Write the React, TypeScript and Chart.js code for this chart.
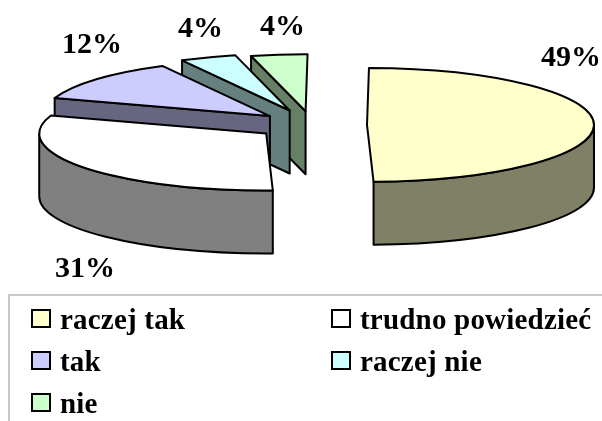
import React, { useEffect, useRef } from "react";
import { Chart, registerables } from "chart.js";

Chart.register(...registerables);

const categories = ["raczej tak", "trudno powiedzieć", "tak", "raczej nie", "nie"];
const shares = [49.4, 30.6, 12, 4, 4];
const topColors = ["#FFFFCC", "#FFFFFF", "#CCCCFF", "#CCFFFF", "#CCFFCC"];
const sideColors = ["#808066", "#808080", "#666680", "#668080", "#668066"];
const paintOrder = [4, 3, 2, 1, 0];
const explode = [55, 57, 55, 62, 55];
const labelSpots = [[541, 66], [55, 277], [62, 53], [178, 37], [260, 35]];
const legendSpots = [[31, 309], [331, 309], [31, 351], [331, 351], [31, 393]];

const RADIUS = 227;
const TILT = 0.251;
const DEPTH = 63;

const pie3d = {
  id: "pie3d",
  beforeDatasetsDraw(chart: any) {
    const ctx = chart.ctx;
    const arcs = chart.getDatasetMeta(0).data;
    for (const i of paintOrder) {
      const el = arcs[i];
      const a0 = el.startAngle;
      const a1 = el.endAngle;
      const r = el.outerRadius;
      const mid = (a0 + a1) / 2;
      const px = el.x + Math.cos(mid) * explode[i];
      const py = el.y + TILT * Math.sin(mid) * explode[i];

      ctx.save();
      ctx.lineWidth = 2;
      ctx.lineJoin = "round";
      ctx.strokeStyle = "#000";
      ctx.fillStyle = sideColors[i];
      const face = (a: number) => {
        const rx = px + r * Math.cos(a);
        const ry = py + TILT * r * Math.sin(a);
        ctx.beginPath();
        ctx.moveTo(px, py);
        ctx.lineTo(rx, ry);
        ctx.lineTo(rx, ry + DEPTH);
        ctx.lineTo(px, py + DEPTH);
        ctx.closePath();
        ctx.fill();
        ctx.stroke();
      };
      if (Math.cos(a0) < -0.1) face(a0);
      if (Math.cos(a1) > 0.1) face(a1);
      const from = Math.max(a0, 0);
      const to = Math.min(a1, Math.PI);
      if (to > from) {
        ctx.beginPath();
        ctx.ellipse(px, py, r, TILT * r, 0, from, to);
        ctx.ellipse(px, py + DEPTH, r, TILT * r, 0, to, from, true);
        ctx.closePath();
        ctx.fill();
        ctx.stroke();
      }
      ctx.restore();

      ctx.save();
      ctx.translate(px, py);
      ctx.scale(1, TILT);
      ctx.translate(-el.x, -el.y);
      el.draw(ctx, chart.chartArea);
      ctx.restore();

      ctx.save();
      ctx.lineWidth = 2;
      ctx.lineJoin = "round";
      ctx.strokeStyle = "#000";
      ctx.beginPath();
      ctx.moveTo(px, py);
      ctx.ellipse(px, py, r, TILT * r, 0, a0, a1);
      ctx.closePath();
      ctx.stroke();
      ctx.restore();
    }
    return false;
  },
  afterDraw(chart: any) {
    const ctx = chart.ctx;
    ctx.save();
    ctx.strokeStyle = "#C8C8C8";
    ctx.lineWidth = 2;
    ctx.beginPath();
    ctx.moveTo(602, 295);
    ctx.lineTo(9, 295);
    ctx.lineTo(9, 421);
    ctx.stroke();

    ctx.fillStyle = "#000";
    ctx.textBaseline = "alphabetic";
    ctx.font = 'bold 30px "Liberation Serif"';
    shares.forEach((v, i) => {
      const [x, y] = labelSpots[i];
      ctx.fillText(`${Math.round(v)}%`, x, y);
    });
    ctx.font = 'bold 29px "Liberation Serif"';
    (ctx as any).letterSpacing = "0.2px";
    categories.forEach((name, i) => {
      const [x, y] = legendSpots[i];
      ctx.fillStyle = topColors[i];
      ctx.strokeStyle = "#000";
      ctx.lineWidth = 2;
      ctx.fillRect(x + 1, y + 1, 18, 17);
      ctx.strokeRect(x + 1, y + 1, 18, 17);
      ctx.fillStyle = "#000";
      ctx.fillText(name, x + 29, y + 20);
    });
    ctx.restore();
  },
};

export default function App() {
  const ref = useRef<HTMLCanvasElement>(null);
  useEffect(() => {
    const chart = new Chart(ref.current!, {
      type: "pie",
      data: {
        labels: categories,
        datasets: [
          {
            data: shares,
            backgroundColor: topColors,
            borderWidth: 0,
            radius: RADIUS,
            rotation: 0.5,
            clip: false,
          } as any,
        ],
      },
      options: {
        animation: false,
        responsive: false,
        events: [],
        layout: { padding: { left: 22, right: 0, top: 0, bottom: 171 } },
        plugins: { legend: { display: false }, tooltip: { enabled: false } },
      },
      plugins: [pie3d],
    } as any);
    return () => chart.destroy();
  }, []);
  return (
    <canvas
      ref={ref}
      width={602}
      height={421}
      style={{ position: "fixed", left: 0, top: 0, display: "block" }}
    />
  );
}
